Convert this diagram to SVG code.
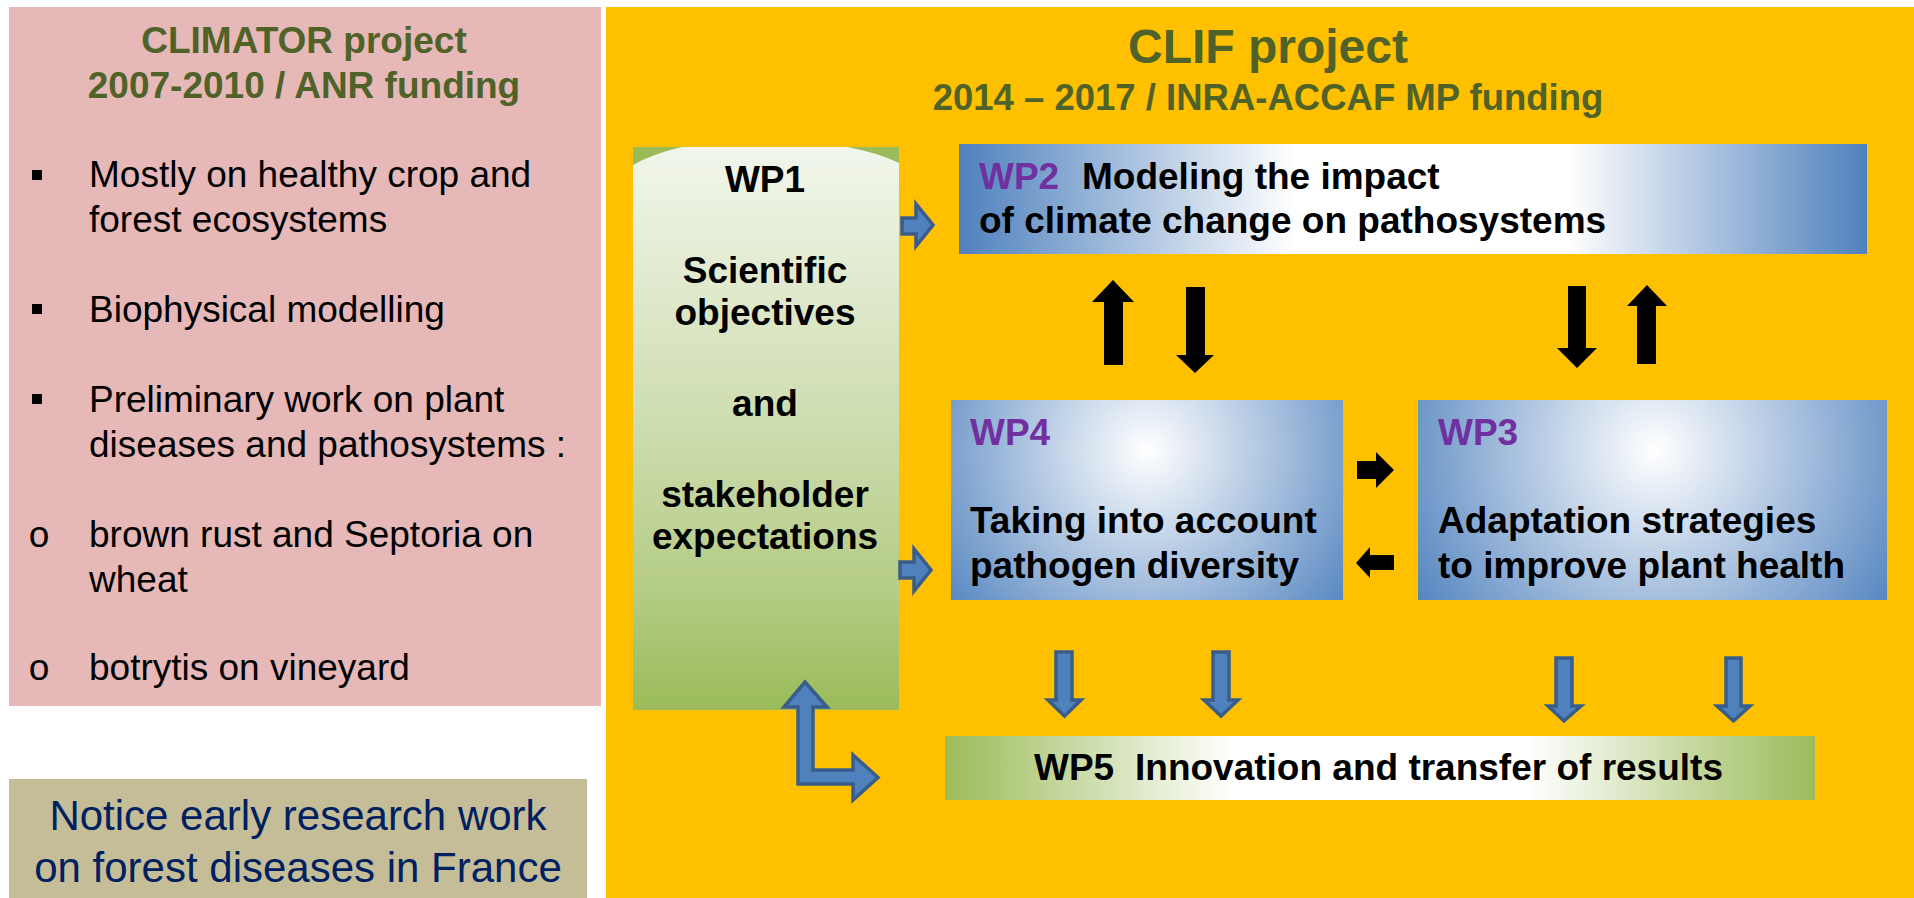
<svg xmlns="http://www.w3.org/2000/svg" width="1914" height="898" viewBox="0 0 1914 898">
<style>
text{font-family:"Liberation Sans",Arial,sans-serif}
.tg{font-weight:bold;fill:#4F6228;text-anchor:middle}
.bl{font-size:37px;fill:#000}
.bb{font-size:37px;font-weight:bold;fill:#000}
.wp{fill:#7030A0}
.c{text-anchor:middle}
.ob{font-family:"Liberation Mono","Courier New",monospace;font-size:37px;fill:#000}
.blk{fill:#000}
.bar{fill:#4F81BD;stroke:#385D8A;stroke-width:3.5;stroke-linejoin:miter}
</style>
<defs>
<linearGradient id="g1" x1="0" y1="0" x2="0" y2="1">
<stop offset="0" stop-color="#F2F6EC"/>
<stop offset="0.5" stop-color="#CDDCAE"/>
<stop offset="0.8" stop-color="#B3CB82"/>
<stop offset="1" stop-color="#9BBB59"/>
</linearGradient>
<linearGradient id="g2" x1="0" y1="0" x2="1" y2="0">
<stop offset="0" stop-color="#4F81BD"/>
<stop offset="0.37" stop-color="#FFFFFF"/>
<stop offset="0.67" stop-color="#FFFFFF"/>
<stop offset="1" stop-color="#4F81BD"/>
</linearGradient>
<linearGradient id="g5" x1="0" y1="0" x2="1" y2="0">
<stop offset="0" stop-color="#9BBB59"/>
<stop offset="0.33" stop-color="#FFFFFF"/>
<stop offset="0.67" stop-color="#FFFFFF"/>
<stop offset="1" stop-color="#9BBB59"/>
</linearGradient>
<radialGradient id="g4" gradientUnits="userSpaceOnUse" cx="1147" cy="450" r="262">
<stop offset="0" stop-color="#FFFFFF"/>
<stop offset="1" stop-color="#4F81BD"/>
</radialGradient>
<radialGradient id="g3" gradientUnits="userSpaceOnUse" cx="1655" cy="450" r="290">
<stop offset="0" stop-color="#FFFFFF"/>
<stop offset="1" stop-color="#4F81BD"/>
</radialGradient>
</defs>
<rect width="1914" height="898" fill="#FFFFFF"/>

<g id="climator">
<rect x="9" y="7" width="592" height="699" fill="#E6B8B7"/>
<text class="tg" x="304" y="53" font-size="37">CLIMATOR project</text>
<text class="tg" x="304" y="98" font-size="37">2007-2010 / ANR funding</text>
<rect x="32" y="170" width="10" height="10" fill="#000"/>
<text class="bl" x="89" y="187">Mostly on healthy crop and</text>
<text class="bl" x="89" y="232">forest ecosystems</text>
<rect x="32" y="304" width="10" height="10" fill="#000"/>
<text class="bl" x="89" y="322">Biophysical modelling</text>
<rect x="32" y="394" width="10" height="10" fill="#000"/>
<text class="bl" x="89" y="412">Preliminary work on plant</text>
<text class="bl" x="89" y="457">diseases and pathosystems :</text>
<text class="ob" x="28" y="547">o</text>
<text class="bl" x="89" y="547">brown rust and Septoria on</text>
<text class="bl" x="89" y="592">wheat</text>
<text class="ob" x="28" y="680">o</text>
<text class="bl" x="89" y="680">botrytis on vineyard</text>
</g>

<g id="notice">
<rect x="9" y="779" width="578" height="119" fill="#C4BD97"/>
<text class="c" x="298" y="830" font-size="42" fill="#002060">Notice early research work</text>
<text class="c" x="298" y="882" font-size="42" fill="#002060">on forest diseases in France</text>
</g>

<g id="clif">
<rect x="606" y="7" width="1308" height="891" fill="#FFC000"/>
<text class="tg" x="1268" y="63" font-size="48">CLIF project</text>
<text class="tg" x="1268" y="110" font-size="36.5">2014 – 2017 / INRA-ACCAF MP funding</text>
</g>

<g id="wp1">
<rect x="633" y="147" width="266" height="563" fill="url(#g1)"/>
<path d="M633,147 L682,147 Q652,154 633,165 Z" fill="#9BBB59"/>
<path d="M847,147 L899,147 L899,163 Q879,153 847,147 Z" fill="#9BBB59"/>
<text class="bb c" x="765" y="192">WP1</text>
<text class="bb c" x="765" y="283">Scientific</text>
<text class="bb c" x="765" y="325">objectives</text>
<text class="bb c" x="765" y="416">and</text>
<text class="bb c" x="765" y="507">stakeholder</text>
<text class="bb c" x="765" y="549">expectations</text>
</g>

<g id="wp2">
<rect x="959" y="144" width="908" height="110" fill="url(#g2)"/>
<text class="bb" x="979"  y="189"><tspan class="wp">WP2</tspan><tspan x="1082">Modeling the impact</tspan></text>
<text class="bb" x="979" y="233">of climate change on pathosystems</text>
</g>

<g id="wp4">
<rect x="951" y="400" width="392" height="200" fill="url(#g4)"/>
<text class="bb wp" x="970" y="445">WP4</text>
<text class="bb" x="970" y="533">Taking into account</text>
<text class="bb" x="970" y="578">pathogen diversity</text>
</g>

<g id="wp3">
<rect x="1418" y="400" width="469" height="200" fill="url(#g3)"/>
<text class="bb wp" x="1438" y="445">WP3</text>
<text class="bb" x="1438" y="533">Adaptation strategies</text>
<text class="bb" x="1438" y="578">to improve plant health</text>
</g>

<g id="wp5">
<rect x="945" y="736" width="870" height="64" fill="url(#g5)"/>
<text class="bb" x="1034" y="780"><tspan>WP5</tspan><tspan x="1135">Innovation and transfer of results</tspan></text>
</g>

<g id="connectors">
<polygon class="bar" points="902,218 916,218 916,204 933,225 916,246 916,234 902,234"/>
<polygon class="bar" points="900,562 914,562 914,549 931,570 914,591 914,578 900,578"/>
<polygon class="blk" points="1113,280 1134,302 1123,302 1123,365 1104,365 1104,302 1092,302"/>
<polygon class="blk" points="1186,287 1205,287 1205,355 1214,355 1195,373 1176,355 1186,355"/>
<polygon class="blk" points="1568,286 1586,286 1586,348 1597,348 1577,368 1557,348 1568,348"/>
<polygon class="blk" points="1647,285 1667,306 1656,306 1656,364 1637,364 1637,306 1627,306"/>
<polygon class="blk" points="1357,461 1376,461 1376,452 1394,470 1376,488 1376,479 1357,479"/>
<polygon class="blk" points="1356,563 1370,547 1370,555 1394,555 1394,570 1370,570 1370,578"/>
<polygon class="bar" points="1056,652 1072,652 1072,700 1081,700 1064.5,716 1048,700 1056,700"/>
<polygon class="bar" points="1213,652 1229,652 1229,700 1238,700 1221,716 1204,700 1213,700"/>
<polygon class="bar" points="1556,658 1572,658 1572,706 1581,706 1564,721 1548,706 1556,706"/>
<polygon class="bar" points="1726,658 1741,658 1741,706 1750,706 1733.5,721 1717,706 1726,706"/>
<polygon class="bar" points="805,682 827,707 813,707 813,770 853,770 853,755 878,777.5 853,800 853,784 798,784 798,707 784,707"/>
</g>
</svg>
